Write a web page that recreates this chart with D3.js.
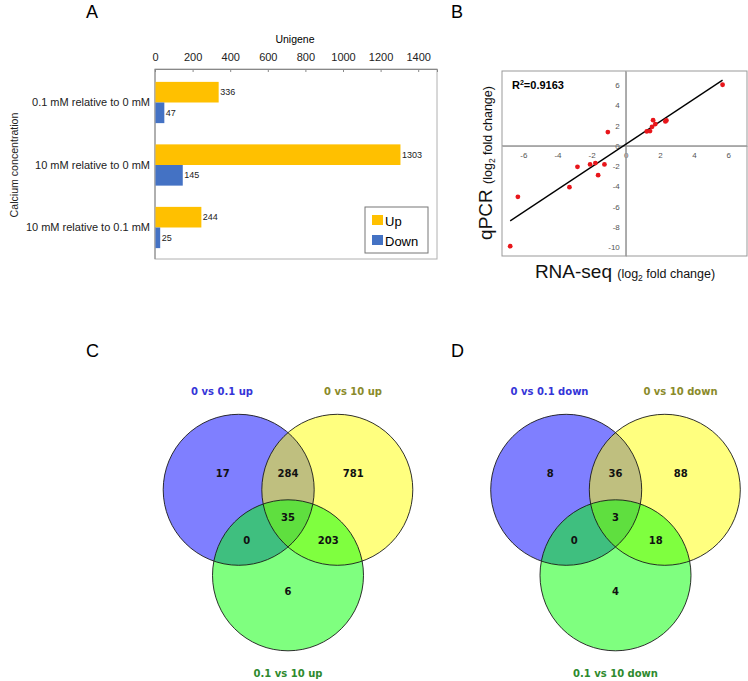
<!DOCTYPE html>
<html>
<head>
<meta charset="utf-8">
<script src="https://cdn.jsdelivr.net/npm/d3@7"></script>
<style>
  body { margin: 0; background: #fff; }
  svg { display: block; }
</style>
</head>
<body>
<script>
// ---- panel A: DEG counts
var categories = ["0.1 mM relative to 0 mM", "10 mM relative to 0 mM", "10 mM relative to 0.1 mM"];
var seriesNames = ["Up", "Down"];
var upCounts = [336, 1303, 244];
var downCounts = [47, 145, 25];
var unigeneTicks = [0, 200, 400, 600, 800, 1000, 1200, 1400];

// ---- panel B: qPCR vs RNA-seq
var rnaSeq = [5.67, 1.60, 1.73, 1.54, 1.23, 1.42, 2.32, 2.38, -1.05, -2.83, -2.09, -1.78, -1.25, -1.62, -3.30, -6.32, -6.77];
var qpcr   = [6.04, 2.54, 2.15, 1.88, 1.42, 1.46, 2.41, 2.51, 1.36, -2.08, -1.84, -1.71, -1.84, -2.90, -4.09, -5.05, -9.93];
var foldTicksX = [-6, -4, -2, 0, 2, 4, 6];
var foldTicksY = [-10, -8, -6, -4, -2, 0, 2, 4, 6];
var rSquared = "0.9163";

// ---- panels C, D: venn counts (a, ab, b, abc, ac, bc, c)
var vennRegions = ["a", "ab", "b", "abc", "ac", "bc", "c"];
var upSets = ["0 vs 0.1 up", "0 vs 10 up", "0.1 vs 10 up"];
var upOverlap = [17, 284, 781, 35, 0, 203, 6];
var downSets = ["0 vs 0.1 down", "0 vs 10 down", "0.1 vs 10 down"];
var downOverlap = [8, 36, 88, 3, 0, 18, 4];

var sans = "'Liberation Sans', Arial, sans-serif";
var venFont = "'DejaVu Sans', Verdana, sans-serif";
var plain = function(d){ return String(d); };   // keep ascii hyphen, no thousands comma

var svg = d3.select("body").append("svg")
    .attr("width", 748).attr("height", 681)
    .style("background", "#fff");

function panelLetter(txt, x, y){
    svg.append("text").attr("x", x).attr("y", y)
        .attr("font-family", sans).attr("font-size", 18)
        .text(txt);
}
panelLetter("A", 86, 18);
panelLetter("B", 451, 18);
panelLetter("C", 86, 357);
panelLetter("D", 451, 357);

// ================= A =================
(function(){
    var left = 155, right = 437, top = 69, bottom = 259;
    var x = d3.scaleLinear().domain([0, 1500]).range([left, right]);
    var y = d3.scaleBand().domain(categories).range([70, 260])
        .paddingInner(0.34).paddingOuter(0.19);
    var ySub = d3.scaleBand().domain(seriesNames).range([0, y.bandwidth()]);
    var colors = { Up: "#ffc000", Down: "#4472c4" };
    var g = svg.append("g");

    g.append("rect").attr("x", left).attr("y", top)
        .attr("width", right - left).attr("height", bottom - top)
        .attr("fill", "none").attr("stroke", "#b0b0b0");

    var ax = d3.axisTop(x).tickValues(unigeneTicks).tickFormat(plain).tickSize(-3).tickPadding(8);
    g.append("g").attr("transform", "translate(0," + top + ")").call(ax)
        .call(function(s){
            s.select(".domain").attr("stroke", "#888");
            s.selectAll(".tick line").attr("stroke", "#888");
            s.selectAll("text").attr("font-family", sans).attr("font-size", 11).attr("fill", "#222");
        });
    g.append("line").attr("x1", left).attr("x2", left).attr("y1", top).attr("y2", bottom)
        .attr("stroke", "#888");

    g.append("text").attr("x", 295).attr("y", 43)
        .attr("text-anchor", "middle").attr("font-family", sans).attr("font-size", 10.5)
        .text("Unigene");

    g.append("text").attr("transform", "translate(18,165) rotate(-90)")
        .attr("text-anchor", "middle").attr("font-family", sans).attr("font-size", 10.6)
        .attr("fill", "#222")
        .text("Calcium concentration");

    var rows = categories.map(function(c, i){
        return { cat: c, vals: [ { s: "Up", v: upCounts[i] }, { s: "Down", v: downCounts[i] } ] };
    });

    var grp = g.selectAll(".cat").data(rows).enter().append("g")
        .attr("transform", function(d){ return "translate(0," + y(d.cat) + ")"; });

    grp.append("text")
        .attr("x", left - 5).attr("y", y.bandwidth() / 2).attr("dy", "0.35em")
        .attr("text-anchor", "end").attr("font-family", sans).attr("font-size", 11)
        .attr("fill", "#222")
        .text(function(d){ return d.cat; });

    grp.selectAll("rect").data(function(d){ return d.vals; }).enter().append("rect")
        .attr("x", x(0) + 0.5)
        .attr("y", function(d){ return ySub(d.s); })
        .attr("width", function(d){ return x(d.v) - x(0); })
        .attr("height", ySub.bandwidth())
        .attr("fill", function(d){ return colors[d.s]; });

    grp.selectAll(".val").data(function(d){ return d.vals; }).enter().append("text")
        .attr("x", function(d){ return x(d.v) + 2; })
        .attr("y", function(d){ return ySub(d.s) + ySub.bandwidth() / 2; })
        .attr("dy", "0.35em")
        .attr("font-family", sans).attr("font-size", 9).attr("fill", "#222")
        .text(function(d){ return d.v; });

    // legend
    var lg = g.append("g");
    lg.append("rect").attr("x", 365).attr("y", 207).attr("width", 63).attr("height", 46)
        .attr("fill", "#fff").attr("stroke", "#777");
    seriesNames.forEach(function(s, i){
        lg.append("rect").attr("x", 372).attr("y", 215 + i * 20).attr("width", 11).attr("height", 10)
            .attr("fill", colors[s]);
        lg.append("text").attr("x", 385).attr("y", 225.5 + i * 20)
            .attr("font-family", sans).attr("font-size", 13).text(s);
    });
})();

// ================= B =================
(function(){
    var left = 502, right = 747, top = 71, bottom = 256;
    var x = d3.scaleLinear().domain([-7.25, 7.1]).range([left, right]);
    var y = d3.scaleLinear().domain([-10.9, 7.4]).range([bottom, top]);
    var g = svg.append("g");

    g.append("rect").attr("x", left).attr("y", top)
        .attr("width", right - left).attr("height", bottom - top)
        .attr("fill", "none").attr("stroke", "#999");

    var xa = d3.axisBottom(x).tickValues(foldTicksX).tickFormat(plain).tickSize(0).tickPadding(7);
    var ya = d3.axisLeft(y).tickValues(foldTicksY).tickFormat(plain).tickSize(0).tickPadding(6);
    function styleAxis(s){
        s.select(".domain").attr("stroke", "#999");
        s.selectAll("text").attr("font-family", sans).attr("font-size", 8).attr("fill", "#555");
    }
    g.append("g").attr("transform", "translate(0," + y(0) + ")").call(xa).call(styleAxis);
    g.append("g").attr("transform", "translate(" + x(0) + ",0)").call(ya).call(styleAxis);
    // run axis lines across whole box
    g.append("line").attr("x1", left).attr("x2", right).attr("y1", y(0)).attr("y2", y(0)).attr("stroke", "#999");
    g.append("line").attr("x1", x(0)).attr("x2", x(0)).attr("y1", top).attr("y2", bottom).attr("stroke", "#999");

    // least squares fit
    var mx = d3.mean(rnaSeq), my = d3.mean(qpcr);
    var sxy = d3.sum(rnaSeq, function(v, i){ return (v - mx) * (qpcr[i] - my); });
    var sxx = d3.sum(rnaSeq, function(v){ return (v - mx) * (v - mx); });
    var slope = sxy / sxx, icpt = my - slope * mx;
    var ext = d3.extent(rnaSeq);
    g.append("path")
        .attr("d", d3.line()(ext.map(function(v){ return [x(v), y(icpt + slope * v)]; })))
        .attr("stroke", "#000").attr("stroke-width", 1.3).attr("fill", "none");

    g.selectAll(".pt").data(rnaSeq).enter().append("circle")
        .attr("cx", function(d){ return x(d); })
        .attr("cy", function(d, i){ return y(qpcr[i]); })
        .attr("r", 2.4).attr("fill", "#e8161b");

    var r2 = g.append("text").attr("x", 512).attr("y", 89)
        .attr("font-family", sans).attr("font-size", 11).attr("font-weight", "bold");
    r2.append("tspan").text("R");
    r2.append("tspan").attr("font-size", 7).attr("dy", -4).text("2");
    r2.append("tspan").attr("dy", 4).text("=" + rSquared);

    function foldLabel(sel, main){
        sel.attr("font-family", sans).attr("text-anchor", "middle").attr("fill", "#111");
        sel.append("tspan").attr("font-size", 19).text(main + " ");
        sel.append("tspan").attr("font-size", 12.5).text("(log");
        sel.append("tspan").attr("font-size", 8.5).attr("dy", 3).text("2");
        sel.append("tspan").attr("font-size", 12.5).attr("dy", -3).text(" fold change)");
    }
    g.append("text").attr("x", 625).attr("y", 278).call(foldLabel, "RNA-seq");
    g.append("text").attr("transform", "translate(492,163) rotate(-90)").call(foldLabel, "qPCR");
})();

// ================= C, D =================
var vennCircles = [ [-49.3, 0], [49.3, 0], [0, 85.5] ];
var vennRadius = 75.5;
var vennFills = ["#0000ff", "#ffff00", "#00ff00"];
var vennTitleColors = ["#3535d8", "#8a8a2a", "#2e8a2e"];
var vennTitlePos = [ [-66, -95], [65, -95], [0, 187] ];
var vennLabelPos = {
    a: [-65.3, -16.3], ab: [0, -16.3], b: [65.3, -16.3],
    abc: [0, 27.5], ac: [-41.3, 50.5], bc: [40.3, 50.5], c: [0, 101.2]
};

function drawVenn(ox, oy, sets, counts){
    var g = svg.append("g").attr("transform", "translate(" + ox + "," + oy + ")");
    g.selectAll(".fill").data(vennCircles).enter().append("circle")
        .attr("cx", function(d){ return d[0]; })
        .attr("cy", function(d){ return d[1]; })
        .attr("r", vennRadius)
        .attr("fill", function(d, i){ return vennFills[i]; })
        .attr("fill-opacity", 0.5);
    g.selectAll(".edge").data(vennCircles).enter().append("circle")
        .attr("cx", function(d){ return d[0]; })
        .attr("cy", function(d){ return d[1]; })
        .attr("r", vennRadius)
        .attr("fill", "none").attr("stroke", "#1a1a1a").attr("stroke-width", 0.9);

    g.selectAll(".num").data(vennRegions).enter().append("text")
        .attr("x", function(k){ return vennLabelPos[k][0]; })
        .attr("y", function(k){ return vennLabelPos[k][1]; })
        .attr("dy", "0.36em")
        .attr("text-anchor", "middle").attr("font-family", venFont)
        .attr("font-size", 10).attr("font-weight", "bold").attr("fill", "#111")
        .text(function(k, i){ return counts[i]; });

    g.selectAll(".title").data(sets).enter().append("text")
        .attr("x", function(d, i){ return vennTitlePos[i][0]; })
        .attr("y", function(d, i){ return vennTitlePos[i][1]; })
        .attr("text-anchor", "middle").attr("font-family", venFont)
        .attr("font-size", 10).attr("font-weight", "bold")
        .attr("fill", function(d, i){ return vennTitleColors[i]; })
        .text(function(d){ return d; });
}

drawVenn(288, 489.8, upSets, upOverlap);
drawVenn(615.5, 489.8, downSets, downOverlap);
</script>
</body>
</html>
